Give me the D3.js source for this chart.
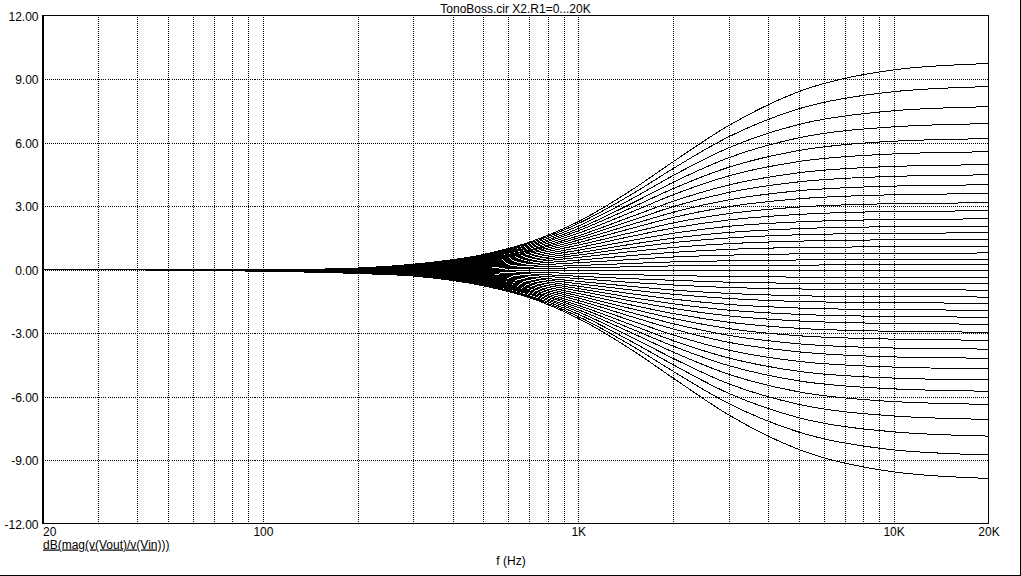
<!DOCTYPE html>
<html><head><meta charset="utf-8">
<script src="https://cdn.jsdelivr.net/npm/d3@7"></script>
<style>
html,body{margin:0;padding:0;background:#fff;}
svg{display:block;}
text{font-family:"Liberation Sans",Arial,sans-serif;font-size:12px;fill:#000;}
</style></head><body>
<svg id="c" width="1021" height="576"></svg>
<script>
// ---- data ----
const chartTitle = "TonoBoss.cir X2.R1=0...20K";
const yAxisTitle = "dB(mag(v(Vout)/v(Vin)))";
const xAxisTitle = "f (Hz)";
const freqs = [20, 40, 100, 200, 300, 500, 700, 1000, 1500, 2000, 3000, 5000, 10000, 20000];
// one row per R1 step (dB values at the frequencies above)
const gainCurves = [
  [0,-0.02,-0.02, 0.07, 0.25, 0.71, 1.29, 2.26, 3.82, 5.09, 6.80, 8.40, 9.43, 9.73],
  [0,-0.02,-0.02, 0.06, 0.24, 0.68, 1.24, 2.17, 3.61, 4.77, 6.27, 7.59, 8.40, 8.64],
  [0,-0.02,-0.02, 0.06, 0.23, 0.65, 1.18, 2.05, 3.39, 4.44, 5.75, 6.85, 7.50, 7.69],
  [0,-0.02,-0.02, 0.05, 0.22, 0.61, 1.12, 1.93, 3.17, 4.12, 5.28, 6.22, 6.74, 6.89],
  [0,-0.02,-0.02, 0.05, 0.21, 0.58, 1.06, 1.83, 2.97, 3.82, 4.83, 5.62, 6.06, 6.18],
  [0,-0.02,-0.03, 0.04, 0.19, 0.55, 1.00, 1.71, 2.76, 3.53, 4.42, 5.10, 5.46, 5.56],
  [0,-0.02,-0.03, 0.04, 0.18, 0.51, 0.93, 1.59, 2.54, 3.22, 3.99, 4.57, 4.87, 4.95],
  [0,-0.02,-0.03, 0.03, 0.17, 0.48, 0.88, 1.49, 2.35, 2.97, 3.64, 4.14, 4.40, 4.47],
  [0,-0.02,-0.03, 0.02, 0.16, 0.45, 0.82, 1.38, 2.16, 2.70, 3.29, 3.72, 3.94, 4.00],
  [0,-0.02,-0.03, 0.02, 0.14, 0.42, 0.76, 1.27, 1.97, 2.46, 2.97, 3.34, 3.53, 3.58],
  [0,-0.02,-0.03, 0.01, 0.13, 0.38, 0.69, 1.15, 1.77, 2.20, 2.64, 2.95, 3.11, 3.15],
  [0,-0.02,-0.03, 0.00, 0.12, 0.34, 0.62, 1.03, 1.59, 1.96, 2.34, 2.60, 2.74, 2.77],
  [0,-0.02,-0.04, 0.00, 0.10, 0.30, 0.55, 0.91, 1.39, 1.71, 2.04, 2.25, 2.36, 2.39],
  [0,-0.02,-0.04,-0.01, 0.08, 0.26, 0.48, 0.79, 1.21, 1.48, 1.75, 1.93, 2.02, 2.04],
  [0,-0.02,-0.04,-0.02, 0.07, 0.22, 0.41, 0.68, 1.04, 1.27, 1.49, 1.64, 1.71, 1.73],
  [0,-0.02,-0.04,-0.02, 0.05, 0.18, 0.34, 0.57, 0.86, 1.04, 1.22, 1.34, 1.40, 1.41],
  [0,-0.02,-0.04,-0.03, 0.04, 0.14, 0.27, 0.44, 0.67, 0.81, 0.95, 1.04, 1.08, 1.09],
  [0,-0.02,-0.04,-0.04, 0.02, 0.10, 0.19, 0.32, 0.48, 0.59, 0.68, 0.74, 0.77, 0.78],
  [0,-0.02,-0.05,-0.05, 0.00, 0.05, 0.11, 0.19, 0.29, 0.36, 0.41, 0.45, 0.47, 0.47],
  [0,-0.02,-0.05,-0.05,-0.02, 0.01, 0.04, 0.08, 0.13, 0.17, 0.19, 0.21, 0.22, 0.22],
  [0,-0.02,-0.05,-0.06,-0.05,-0.04,-0.04,-0.04,-0.04,-0.04,-0.04,-0.04,-0.04,-0.04],
  [0,-0.02,-0.05,-0.07,-0.06,-0.09,-0.13,-0.19,-0.25,-0.29,-0.33,-0.36,-0.38,-0.38],
  [0,-0.02,-0.06,-0.08,-0.07,-0.14,-0.21,-0.32,-0.44,-0.51,-0.60,-0.65,-0.67,-0.68],
  [0,-0.02,-0.06,-0.09,-0.09,-0.18,-0.28,-0.43,-0.62,-0.73,-0.85,-0.92,-0.96,-0.97],
  [0,-0.02,-0.06,-0.10,-0.11,-0.23,-0.36,-0.56,-0.81,-0.97,-1.13,-1.24,-1.29,-1.30],
  [0,-0.02,-0.06,-0.10,-0.12,-0.27,-0.42,-0.67,-0.98,-1.17,-1.37,-1.51,-1.57,-1.59],
  [0,-0.02,-0.06,-0.11,-0.14,-0.31,-0.49,-0.79,-1.16,-1.40,-1.65,-1.82,-1.90,-1.92],
  [0,-0.02,-0.06,-0.12,-0.15,-0.35,-0.56,-0.90,-1.34,-1.62,-1.92,-2.12,-2.22,-2.25],
  [0,-0.02,-0.07,-0.12,-0.17,-0.38,-0.63,-1.01,-1.51,-1.84,-2.19,-2.43,-2.55,-2.58],
  [0,-0.02,-0.07,-0.13,-0.18,-0.42,-0.69,-1.13,-1.70,-2.08,-2.49,-2.78,-2.92,-2.96],
  [0,-0.02,-0.07,-0.13,-0.20,-0.46,-0.76,-1.24,-1.88,-2.31,-2.79,-3.13,-3.29,-3.34],
  [0,-0.02,-0.07,-0.14,-0.21,-0.49,-0.82,-1.35,-2.07,-2.56,-3.11,-3.51,-3.71,-3.76],
  [0,-0.02,-0.07,-0.14,-0.22,-0.53,-0.88,-1.46,-2.26,-2.81,-3.44,-3.89,-4.13,-4.19],
  [0,-0.02,-0.07,-0.15,-0.23,-0.56,-0.95,-1.58,-2.46,-3.09,-3.81,-4.34,-4.61,-4.69],
  [0,-0.02,-0.08,-0.16,-0.25,-0.59,-1.01,-1.69,-2.66,-3.36,-4.18,-4.81,-5.13,-5.22],
  [0,-0.02,-0.08,-0.16,-0.26,-0.62,-1.06,-1.79,-2.85,-3.62,-4.54,-5.26,-5.64,-5.75],
  [0,-0.02,-0.08,-0.17,-0.27,-0.65,-1.12,-1.90,-3.04,-3.90,-4.95,-5.78,-6.24,-6.37],
  [0,-0.02,-0.08,-0.17,-0.28,-0.68,-1.17,-2.00,-3.25,-4.20,-5.40,-6.37,-6.92,-7.08],
  [0,-0.02,-0.08,-0.18,-0.29,-0.72,-1.24,-2.11,-3.46,-4.50,-5.85,-7.00,-7.67,-7.87],
  [0,-0.02,-0.08,-0.18,-0.31,-0.75,-1.29,-2.22,-3.66,-4.81,-6.33,-7.68,-8.52,-8.76],
  [0,-0.02,-0.08,-0.19,-0.31,-0.77,-1.33,-2.31,-3.86,-5.13,-6.87,-8.50,-9.56,-9.87]
];
const yTickValues = [12, 9, 6, 3, 0, -3, -6, -9, -12];
const yTickLabels = ["12.00", "9.00", "6.00", "3.00", "0.00", "-3.00", "-6.00", "-9.00", "-12.00"];
const yGridValues = [9, 6, 3, 0, -3, -6, -9];
const xTickValues = [20, 100, 1000, 10000, 20000];
const xTickLabels = ["20", "100", "1K", "10K", "20K"];
const xGridValues = [30,40,50,60,70,80,90,100,200,300,400,500,600,700,800,900,1000,
                     2000,3000,4000,5000,6000,7000,8000,9000,10000];

// ---- layout ----
const W = 1021, H = 576;
const L = 42.5, R = 988.5, T = 15.5, B = 523.5;
const x = d3.scaleLog().domain([20, 20000]).range([L, R]);
const y = d3.scaleLinear().domain([-12, 12]).range([B, T]);
const svg = d3.select("#c");
svg.append("rect").attr("width", W).attr("height", H).attr("fill", "#fff");

// vertical dotted grid
svg.append("g").attr("transform", `translate(0,${B})`)
  .call(d3.axisBottom(x).tickValues(xGridValues).tickSize(-(B - T)).tickFormat(""))
  .call(g => g.select(".domain").remove())
  .call(g => g.selectAll("line").attr("stroke", "#000").attr("stroke-dasharray", "1,1")
      .attr("shape-rendering", "crispEdges"));
// horizontal dotted grid
svg.append("g").attr("transform", `translate(${L},0)`)
  .call(d3.axisLeft(y).tickValues(yGridValues).tickSize(-(R - L)).tickFormat(""))
  .call(g => g.select(".domain").remove())
  .call(g => g.selectAll("line").attr("stroke", "#000").attr("stroke-dasharray", "1,1")
      .attr("shape-rendering", "crispEdges"));

// curves
const line = d3.line().x((d, i) => x(freqs[i])).y(d => y(d)).curve(d3.curveMonotoneX);
svg.append("g").selectAll("path").data(gainCurves).join("path")
  .attr("d", line).attr("fill", "none").attr("stroke", "#000").attr("stroke-width", 1)
  .attr("shape-rendering", "crispEdges");

// frame
const frame = svg.append("g").attr("stroke", "#000").attr("shape-rendering", "crispEdges");
frame.append("line").attr("x1", L - 1).attr("x2", R + 0.5).attr("y1", T).attr("y2", T);
frame.append("line").attr("x1", L - 1).attr("x2", R + 0.5).attr("y1", B).attr("y2", B);
frame.append("line").attr("x1", R).attr("x2", R).attr("y1", T).attr("y2", B);
frame.append("line").attr("x1", L + 0.5).attr("x2", L + 0.5).attr("y1", T - 0.5).attr("y2", B + 0.5).attr("stroke-width", 2);
// outer window border (right & bottom)
frame.append("line").attr("x1", W - 0.5).attr("x2", W - 0.5).attr("y1", 0).attr("y2", H);
frame.append("line").attr("x1", 0).attr("x2", W).attr("y1", H - 0.5).attr("y2", H - 0.5);

// y labels
svg.append("g").attr("transform", `translate(${L},0)`)
  .call(d3.axisLeft(y).tickValues(yTickValues).tickSize(0).tickPadding(4)
      .tickFormat((d, i) => yTickLabels[i]))
  .call(g => g.select(".domain").remove())
  .call(g => g.selectAll("text").attr("dy", "0.4em")
      .style("font-family", "'Liberation Sans',Arial,sans-serif").style("font-size", "12px"));
// x labels
svg.append("g").attr("transform", `translate(0,${B})`)
  .call(d3.axisBottom(x).tickValues(xTickValues).tickSize(0).tickPadding(4)
      .tickFormat((d, i) => xTickLabels[i]))
  .call(g => g.select(".domain").remove())
  .call(g => g.selectAll("text")
      .style("font-family", "'Liberation Sans',Arial,sans-serif").style("font-size", "12px")
      .attr("text-anchor", (d, i) => i === 0 ? "start" : "middle"));

// titles
svg.append("text").attr("x", (L + R) / 2).attr("y", 12.5).attr("text-anchor", "middle").text(chartTitle);
svg.append("text").attr("x", 43).attr("y", 548.5).style("text-decoration", "underline").text(yAxisTitle);
svg.append("text").attr("x", 511).attr("y", 565).attr("text-anchor", "middle").text(xAxisTitle);
</script>
</body></html>
